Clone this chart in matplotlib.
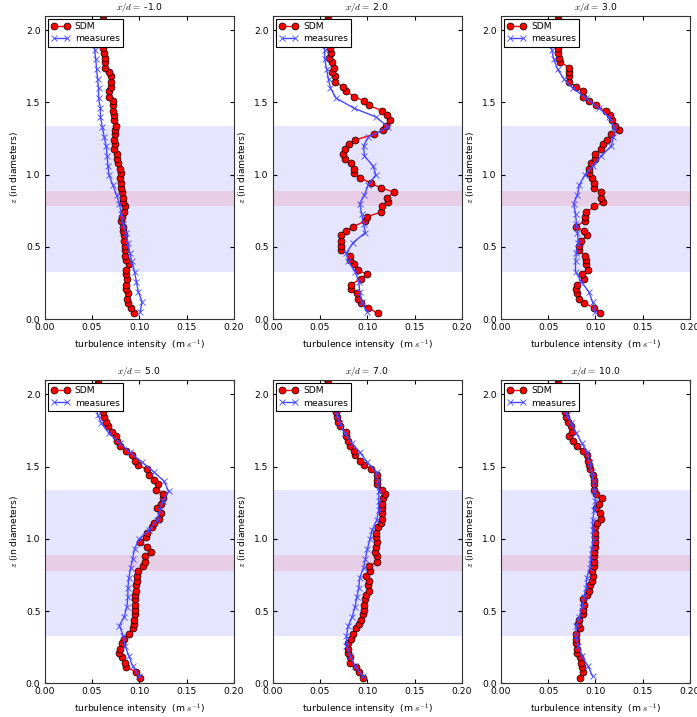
import matplotlib
matplotlib.use("Agg")
import matplotlib.pyplot as plt

FS = 6.6
plt.rcParams['mathtext.fontset'] = 'cm'
plt.rcParams['font.size'] = FS

# downstream positions (x/d)
positions = [-1.0, 2.0, 3.0, 5.0, 7.0, 10.0]

# heights of the SDM profile points
z_sdm = [0.04, 0.08, 0.11, 0.14, 0.18, 0.21, 0.24, 0.28, 0.31, 0.34,
         0.38, 0.41, 0.44, 0.48, 0.51, 0.54, 0.58, 0.61, 0.64, 0.68,
         0.71, 0.74, 0.78, 0.81, 0.84, 0.88, 0.91, 0.94, 0.98, 1.01,
         1.04, 1.08, 1.11, 1.14, 1.18, 1.21, 1.24, 1.28, 1.31, 1.34,
         1.38, 1.41, 1.44, 1.48, 1.51, 1.54, 1.58, 1.61, 1.64, 1.68,
         1.71, 1.74, 1.78, 1.81, 1.84, 1.88, 1.91, 1.94, 1.98, 2.01,
         2.04, 2.08, 2.11]

# heights of the measurement points
z_meas = [0.05, 0.12, 0.19, 0.26, 0.33, 0.40, 0.46, 0.53, 0.60, 0.66,
          0.73, 0.80, 0.86, 0.93, 1.00, 1.06, 1.13, 1.20, 1.26, 1.33,
          1.40, 1.46, 1.53, 1.60, 1.66, 1.73, 1.80, 1.86, 1.93]

sdm_m1 = [0.094, 0.091, 0.088, 0.087, 0.088, 0.086, 0.086, 0.087, 0.086, 0.086,
          0.089, 0.086, 0.085, 0.085, 0.085, 0.084, 0.084, 0.083, 0.083, 0.081,
          0.082, 0.084, 0.085, 0.083, 0.083, 0.082, 0.081, 0.081, 0.080, 0.081,
          0.080, 0.078, 0.077, 0.076, 0.073, 0.074, 0.073, 0.074, 0.074, 0.075,
          0.073, 0.073, 0.072, 0.072, 0.072, 0.068, 0.068, 0.070, 0.070, 0.070,
          0.068, 0.064, 0.064, 0.064, 0.063, 0.062, 0.062, 0.062, 0.062, 0.062,
          0.062, 0.062, 0.062]
sdm_2 = [0.111, 0.101, 0.093, 0.090, 0.089, 0.083, 0.083, 0.093, 0.100, 0.090,
         0.086, 0.082, 0.082, 0.072, 0.072, 0.072, 0.072, 0.078, 0.085, 0.098,
         0.100, 0.114, 0.115, 0.122, 0.121, 0.128, 0.114, 0.104, 0.092, 0.086,
         0.086, 0.083, 0.076, 0.074, 0.076, 0.081, 0.087, 0.107, 0.117, 0.120,
         0.124, 0.121, 0.116, 0.102, 0.097, 0.086, 0.077, 0.074, 0.066, 0.066,
         0.063, 0.065, 0.063, 0.060, 0.062, 0.061, 0.060, 0.060, 0.059, 0.059,
         0.058, 0.058, 0.057]
sdm_3 = [0.105, 0.099, 0.088, 0.083, 0.081, 0.079, 0.081, 0.088, 0.086, 0.092,
         0.090, 0.090, 0.089, 0.083, 0.083, 0.085, 0.091, 0.088, 0.079, 0.089,
         0.089, 0.090, 0.099, 0.108, 0.106, 0.106, 0.098, 0.098, 0.096, 0.093,
         0.093, 0.095, 0.100, 0.100, 0.106, 0.108, 0.112, 0.117, 0.125, 0.121,
         0.118, 0.115, 0.111, 0.101, 0.093, 0.087, 0.087, 0.080, 0.072, 0.072,
         0.072, 0.072, 0.063, 0.062, 0.061, 0.061, 0.060, 0.060, 0.060, 0.060,
         0.060, 0.060, 0.060]
sdm_5 = [0.101, 0.097, 0.086, 0.085, 0.082, 0.079, 0.080, 0.082, 0.084, 0.089,
         0.093, 0.094, 0.094, 0.095, 0.096, 0.096, 0.096, 0.095, 0.097, 0.097,
         0.098, 0.098, 0.099, 0.104, 0.106, 0.106, 0.112, 0.108, 0.101, 0.107,
         0.108, 0.113, 0.116, 0.121, 0.123, 0.119, 0.123, 0.125, 0.125, 0.118,
         0.120, 0.116, 0.110, 0.108, 0.099, 0.095, 0.092, 0.086, 0.080, 0.077,
         0.075, 0.071, 0.067, 0.065, 0.063, 0.062, 0.061, 0.060, 0.059, 0.058,
         0.057, 0.056, 0.055]
sdm_7 = [0.095, 0.091, 0.088, 0.082, 0.082, 0.080, 0.080, 0.080, 0.083, 0.085,
         0.088, 0.091, 0.093, 0.095, 0.097, 0.097, 0.098, 0.099, 0.102, 0.101,
         0.102, 0.099, 0.103, 0.102, 0.110, 0.110, 0.108, 0.109, 0.110, 0.109,
         0.109, 0.111, 0.114, 0.115, 0.115, 0.115, 0.116, 0.117, 0.119, 0.116,
         0.110, 0.110, 0.110, 0.104, 0.097, 0.092, 0.087, 0.086, 0.082, 0.080,
         0.078, 0.078, 0.071, 0.069, 0.068, 0.067, 0.066, 0.065, 0.063, 0.061,
         0.060, 0.058, 0.056]
sdm_10 = [0.084, 0.087, 0.086, 0.085, 0.084, 0.081, 0.081, 0.080, 0.080, 0.079,
          0.084, 0.082, 0.083, 0.087, 0.087, 0.088, 0.087, 0.091, 0.093, 0.094,
          0.096, 0.097, 0.096, 0.098, 0.099, 0.099, 0.099, 0.100, 0.100, 0.100,
          0.100, 0.100, 0.102, 0.106, 0.105, 0.101, 0.104, 0.107, 0.101, 0.098,
          0.099, 0.099, 0.097, 0.094, 0.093, 0.092, 0.091, 0.087, 0.081, 0.076,
          0.072, 0.075, 0.074, 0.071, 0.069, 0.068, 0.067, 0.066, 0.065, 0.063,
          0.062, 0.060, 0.059]

meas_m1 = [0.101, 0.103, 0.099, 0.097, 0.095, 0.092, 0.090, 0.088, 0.086, 0.083,
           0.081, 0.079, 0.076, 0.072, 0.068, 0.067, 0.066, 0.065, 0.063, 0.061,
           0.059, 0.059, 0.057, 0.057, 0.056, 0.055, 0.054, 0.053, 0.052]
meas_2 = [0.100, 0.094, 0.092, 0.091, 0.087, 0.080, 0.078, 0.085, 0.098, 0.096,
          0.094, 0.092, 0.097, 0.101, 0.109, 0.106, 0.097, 0.096, 0.101, 0.122,
          0.109, 0.086, 0.067, 0.061, 0.059, 0.057, 0.055, 0.055, 0.054]
meas_3 = [0.100, 0.097, 0.093, 0.085, 0.079, 0.079, 0.080, 0.082, 0.081, 0.080,
          0.079, 0.077, 0.081, 0.083, 0.089, 0.097, 0.106, 0.117, 0.119, 0.120,
          0.114, 0.104, 0.090, 0.076, 0.067, 0.060, 0.056, 0.054, 0.053]
meas_5 = [0.100, 0.093, 0.089, 0.085, 0.083, 0.079, 0.084, 0.087, 0.088, 0.088,
          0.089, 0.091, 0.093, 0.095, 0.100, 0.110, 0.119, 0.122, 0.125, 0.131,
          0.126, 0.116, 0.103, 0.090, 0.080, 0.068, 0.060, 0.056, 0.055]
meas_7 = [0.095, 0.087, 0.082, 0.078, 0.078, 0.080, 0.084, 0.087, 0.089, 0.091,
          0.092, 0.096, 0.098, 0.100, 0.103, 0.105, 0.110, 0.112, 0.112, 0.112,
          0.111, 0.110, 0.100, 0.092, 0.084, 0.076, 0.071, 0.068, 0.065]
meas_10 = [0.097, 0.092, 0.086, 0.082, 0.079, 0.080, 0.083, 0.086, 0.088, 0.090,
           0.091, 0.094, 0.095, 0.096, 0.098, 0.097, 0.097, 0.099, 0.100, 0.099,
           0.098, 0.096, 0.094, 0.091, 0.086, 0.080, 0.074, 0.070, 0.067]

sdm_all = [sdm_m1, sdm_2, sdm_3, sdm_5, sdm_7, sdm_10]
meas_all = [meas_m1, meas_2, meas_3, meas_5, meas_7, meas_10]

# rotor area and hub area
rotor_band = (0.33, 1.34)
hub_band = (0.78, 0.885)

fig, axes = plt.subplots(2, 3, figsize=(6.97, 7.17), dpi=100)
fig.subplots_adjust(left=0.064, right=0.99, bottom=0.047, top=0.978,
                    wspace=0.205, hspace=0.2)

for ax, xd, sdm, meas in zip(axes.flat, positions, sdm_all, meas_all):
    ax.axhspan(*rotor_band, color='blue', alpha=0.1, lw=0)
    ax.axhspan(*hub_band, color='red', alpha=0.1, lw=0)
    ax.plot(sdm, z_sdm, 'r-o', lw=1, ms=5, mec='k', mew=0.5, label='SDM')
    ax.plot(meas, z_meas, '-x', color='#4747ff', lw=1, ms=4, mew=0.6,
            label='measures')
    ax.set_xlim(0, 0.2)
    ax.set_ylim(0, 2.1)
    ax.set_xticks([0, 0.05, 0.1, 0.15, 0.2])
    ax.set_yticks([0, 0.5, 1.0, 1.5, 2.0])
    ax.tick_params(direction='in', top=True, right=True, length=3,
                   labelsize=FS, pad=3)
    for sp in ax.spines.values():
        sp.set_color('#333333')
    ax.set_title(r"$x/d = $ " + str(xd), fontsize=FS, pad=4)
    ax.set_xlabel(r"turbulence intensity  (m $s^{-1}$)", fontsize=FS)
    ax.set_ylabel(r"$z$ (in diameters)", fontsize=FS)
    leg = ax.legend(loc='upper left', numpoints=2, fancybox=False,
                    framealpha=1, fontsize=FS, borderaxespad=0.35,
                    handlelength=2.0, borderpad=0.35, labelspacing=0.35,
                    handletextpad=0.6)
    leg.get_frame().set_edgecolor('k')
    leg.get_frame().set_linewidth(0.8)

fig.savefig("out.png", dpi=100)
